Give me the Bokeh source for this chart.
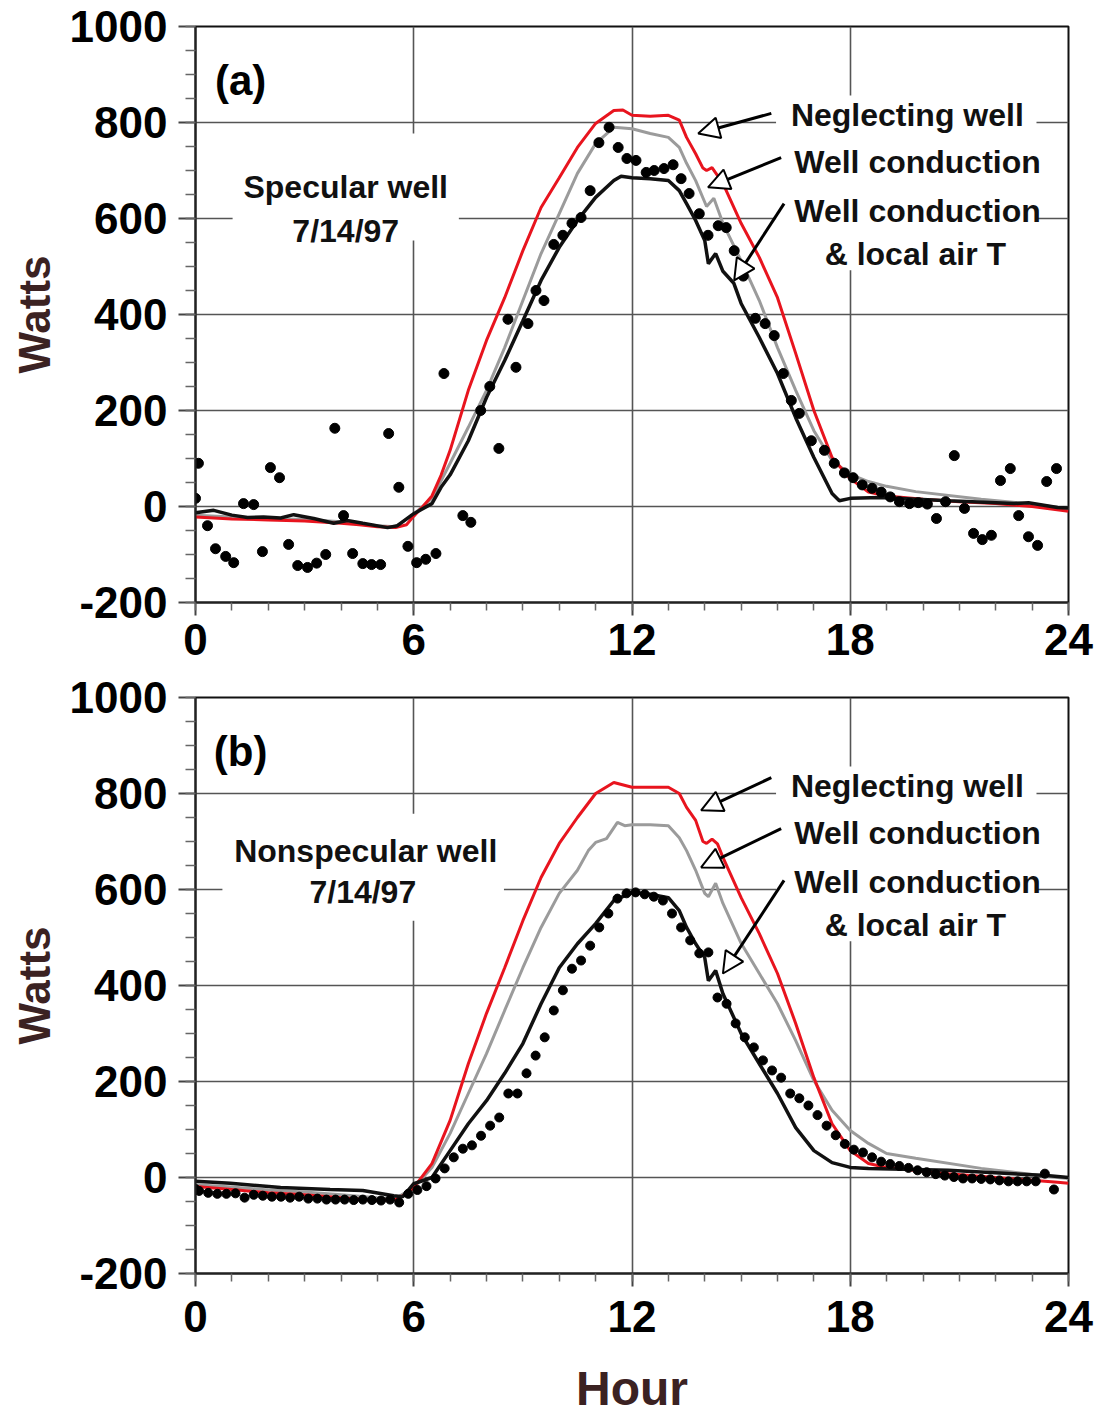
from bokeh.plotting import figure
from bokeh.layouts import column
from bokeh.models import Range1d, FixedTicker, Label, Arrow, NormalHead, BoxAnnotation
from bokeh.embed import file_html
from bokeh.resources import INLINE

FONT = "Liberation Sans"
RED = "#e8141e"
GRAY = "#9b9b9b"
BLACK = "#111111"
AXIS_LABEL_COLOR = "#3b2222"

# ---------------- axes ----------------
x_ticks = [0, 6, 12, 18, 24]
x_tick_labels = ["0", "6", "12", "18", "24"]
x_minor = [0, 1, 2, 3, 4, 5, 6, 7, 8, 9, 10, 11, 12, 13, 14, 15, 16, 17, 18, 19, 20, 21, 22, 23, 24]
y_ticks = [-200, 0, 200, 400, 600, 800, 1000]
y_tick_labels = ["-200", "0", "200", "400", "600", "800", "1000"]
y_minor = [-200, -150, -100, -50, 0, 50, 100, 150, 200, 250, 300, 350, 400, 450, 500,
           550, 600, 650, 700, 750, 800, 850, 900, 950, 1000]

# ---------------- panel (a): specular well ----------------
a_red_h = [0, 1, 2, 3, 4, 4.5, 5, 5.5, 5.8, 6, 6.25, 6.5, 6.75, 7, 7.5, 8, 8.5, 9, 9.5, 10,
           10.5, 11, 11.5, 11.75, 12, 12.5, 13, 13.3, 13.5, 13.75, 13.95, 14.05, 14.2, 14.3,
           14.5, 15, 15.5, 16, 16.5, 17, 17.5, 18, 18.5, 19, 20, 21, 22, 23, 24]
a_red_w = [-22, -26, -28, -30, -35, -38, -42, -44, -38, -20, 0, 22, 65, 117, 242, 346, 435, 533,
           623, 685, 748, 798, 825, 826, 815, 813, 815, 805, 769, 735, 705, 700, 706, 695,
           673, 590, 519, 435, 319, 200, 102, 58, 30, 22, 15, 10, 6, 0, -10]

a_gray_h = [0, 1, 2, 3, 4, 5, 5.5, 6, 6.5, 7, 7.5, 8, 8.5, 9, 9.5, 10, 10.5, 11, 11.5, 12, 12.5,
            13, 13.3, 13.5, 13.75, 14.05, 14.25, 14.5, 15, 15.5, 16, 16.5, 17, 17.5, 18, 18.5,
            19, 19.8, 21.6, 23, 24]
a_gray_w = [-18, -22, -25, -27, -32, -40, -42, -16, 17, 90, 165, 242, 331, 429, 527, 610, 694,
            756, 790, 787, 777, 769, 748, 715, 679, 625, 642, 590, 512, 429, 331, 242, 158, 96,
            67, 52, 42, 31, 15, 5, -5]

a_black_h = [0, 0.5, 1, 1.43, 1.87, 2.34, 2.7, 3.25, 3.8, 4.17, 4.6, 5.28, 5.55, 6, 6.5, 6.75, 7,
             7.5, 8, 8.5, 9, 9.5, 10, 10.5, 11, 11.5, 11.7, 12, 12.5, 13, 13.3, 13.5, 13.75, 14,
             14.1, 14.3, 14.5, 14.8, 15, 15.5, 16, 16.5, 17, 17.5, 17.7, 18, 18.85, 20.7, 22.5,
             22.9, 23.7, 24]
a_black_w = [-13, -8, -18, -23, -22, -24, -17, -25, -35, -29, -35, -44, -40, -15, 6, 40, 66, 137,
             227, 304, 387, 471, 540, 596, 644, 679, 688, 685, 683, 679, 658, 631, 596, 554, 506,
             527, 490, 465, 423, 352, 277, 185, 102, 27, 12, 17, 19, 12, 6, 8, -2, -3]

a_meas_h = [0.0, 0.08, 0.33, 0.55, 0.83, 1.05, 1.32, 1.6, 1.84, 2.06, 2.31, 2.56, 2.81, 3.08,
            3.33, 3.58, 3.83, 4.07, 4.32, 4.6, 4.84, 5.09, 5.31, 5.59, 5.84, 6.08, 6.33, 6.61,
            6.83, 7.35, 7.57, 7.84, 8.09, 8.34, 8.59, 8.81, 9.14, 9.36, 9.58, 9.85, 10.1, 10.35,
            10.6, 10.85, 11.09, 11.37, 11.62, 11.86, 12.11, 12.39, 12.61, 12.88, 13.13, 13.35,
            13.57, 13.85, 14.09, 14.37, 14.59, 14.81, 15.06, 15.39, 15.66, 15.91, 16.16, 16.38,
            16.6, 16.93, 17.29, 17.56, 17.84, 18.08, 18.33, 18.6, 18.85, 19.1, 19.35, 19.63,
            19.87, 20.12, 20.37, 20.62, 20.86, 21.14, 21.39, 21.63, 21.88, 22.13, 22.4, 22.63,
            22.9, 23.15, 23.4, 23.67]
a_meas_w = [17, 90, -40, -88, -104, -117, 6, 4, -94, 81, 60, -79, -123, -127, -118, -100, 163,
            -19, -98, -119, -121, -121, 152, 40, -83, -117, -110, -98, 277, -19, -33, 200, 250,
            121, 390, 290, 381, 450, 429, 546, 565, 590, 602, 658, 758, 790, 748, 725, 721, 696,
            700, 704, 712, 683, 652, 610, 565, 585, 581, 533, 480, 392, 381, 356, 277, 221, 194,
            137, 117, 90, 70, 60, 45, 38, 30, 20, 10, 6, 8, 5, -25, 10, 106, -4, -56, -69, -60,
            54, 79, -19, -63, -81, 52, 79]

# ---------------- panel (b): nonspecular well ----------------
b_red_h = [0, 1, 2, 3, 4, 5, 5.5, 5.8, 6, 6.5, 7, 7.5, 8, 8.5, 9, 9.5, 10, 10.5, 11, 11.5, 12,
           12.5, 13, 13.3, 13.5, 13.75, 13.95, 14.05, 14.2, 14.35, 14.5, 15, 15.5, 16, 16.5, 17,
           17.5, 18, 18.5, 19, 20.7, 22, 23.7, 24]
b_red_w = [-19, -25, -32, -36, -42, -48, -46, -34, -21, 29, 119, 237, 342, 437, 535, 625, 696,
           750, 800, 823, 813, 813, 813, 800, 771, 744, 700, 696, 705, 695, 667, 583, 508, 425,
           321, 208, 112, 56, 29, 21, 8, 0, -10, -12]

b_gray_h = [0, 1, 2, 3, 4, 5, 5.5, 6, 6.5, 7, 7.5, 8, 8.5, 9, 9.5, 10, 10.5, 10.8, 11, 11.3,
            11.6, 11.8, 12, 12.5, 13, 13.3, 13.5, 13.75, 14, 14.1, 14.3, 14.5, 15, 15.5, 16,
            16.5, 17, 17.5, 18, 18.5, 19, 19.8, 21.6, 23.7, 24]
b_gray_w = [-15, -20, -26, -30, -36, -42, -44, -21, 21, 92, 175, 258, 348, 437, 521, 592, 640,
            681, 698, 706, 740, 733, 735, 735, 733, 708, 681, 640, 592, 585, 613, 571, 488, 425,
            362, 285, 202, 140, 98, 71, 50, 40, 19, 0, -2]

b_black_h = [0, 0.96, 2.34, 3.7, 4.6, 5.45, 5.7, 6, 6.5, 7, 7.5, 8, 8.5, 9, 9.5, 10, 10.5, 11,
             11.5, 12, 12.5, 13, 13.3, 13.5, 13.75, 14, 14.1, 14.3, 14.5, 15, 15.5, 16, 16.5, 17,
             17.5, 18, 18.5, 20.7, 23.4, 24]
b_black_w = [-8, -12, -21, -25, -27, -38, -40, -13, 0, 56, 112, 160, 217, 279, 362, 437, 487,
             529, 577, 594, 590, 583, 556, 521, 487, 458, 410, 431, 383, 300, 237, 175, 104, 56,
             31, 21, 19, 15, 4, 0]

b_meas_h = [0.0, 0.1, 0.35, 0.6, 0.85, 1.1, 1.35, 1.6, 1.85, 2.1, 2.35, 2.6, 2.85, 3.1, 3.35,
            3.6, 3.85, 4.1, 4.35, 4.6, 4.85, 5.1, 5.35, 5.6, 5.85, 6.1, 6.35, 6.6, 6.85, 7.1,
            7.35, 7.6, 7.85, 8.1, 8.35, 8.6, 8.85, 9.1, 9.35, 9.6, 9.85, 10.1, 10.35, 10.6,
            10.85, 11.1, 11.35, 11.6, 11.85, 12.1, 12.35, 12.6, 12.85, 13.1, 13.35, 13.6, 13.85,
            14.1, 14.35, 14.6, 14.85, 15.1, 15.35, 15.6, 15.85, 16.1, 16.35, 16.6, 16.85, 17.1,
            17.35, 17.6, 17.85, 18.1, 18.35, 18.6, 18.85, 19.1, 19.35, 19.6, 19.85, 20.1, 20.35,
            20.6, 20.85, 21.1, 21.35, 21.6, 21.85, 22.1, 22.35, 22.6, 22.85, 23.1, 23.35, 23.6]
b_meas_w = [-24, -28, -32, -34, -34, -33, -42, -36, -38, -40, -40, -42, -40, -44, -44, -46, -46,
            -46, -47, -46, -47, -48, -46, -52, -34, -26, -18, -2, 19, 42, 60, 67, 87, 108, 125,
            175, 175, 217, 254, 292, 348, 390, 435, 452, 483, 521, 550, 581, 592, 594, 590, 585,
            577, 550, 521, 494, 467, 469, 375, 362, 321, 292, 271, 244, 223, 208, 175, 165, 150,
            130, 108, 88, 70, 58, 52, 42, 33, 28, 24, 20, 15, 11, 7, 4, 1, -2, -2, -3, -4, -6,
            -8, -8, -8, -8, 8, -25]

# annotation layout (data coordinates)
RIGHT_TEXTS = [("Neglecting well", 19.57, 815), ("Well conduction", 19.85, 717),
               ("Well conduction", 19.85, 615), ("& local air T", 19.79, 527)]
A_ARROWS = [(15.83, 819, 13.82, 777), (16.1, 727, 14.09, 665), (16.18, 631, 14.81, 471)]
B_ARROWS = [(15.83, 833, 13.9, 765), (16.1, 727, 13.9, 646), (16.18, 619, 14.5, 425)]


def make_panel(tag, left_texts, left_box, arrows, series, meas, dot_size,
               border_top, border_bottom, x_standoff, xlabel):
    p = figure(frame_width=873, frame_height=576,
               x_range=Range1d(0, 24), y_range=Range1d(-200, 1000),
               output_backend="svg", toolbar_location=None,
               min_border_left=195, min_border_right=28,
               min_border_top=border_top, min_border_bottom=border_bottom)
    p.background_fill_color = "white"
    p.border_fill_color = "white"
    p.outline_line_color = "#111111"
    p.outline_line_width = 2

    p.xaxis.ticker = FixedTicker(ticks=x_ticks, minor_ticks=x_minor)
    p.yaxis.ticker = FixedTicker(ticks=y_ticks, minor_ticks=y_minor)
    p.xaxis.major_label_overrides = {t: s for t, s in zip(x_ticks, x_tick_labels)}
    p.yaxis.major_label_overrides = {t: s for t, s in zip(y_ticks, y_tick_labels)}

    for ax in (p.xaxis, p.yaxis):
        ax.axis_line_color = "#222222"
        ax.axis_line_width = 2
        ax.major_tick_line_color = "#444444"
        ax.major_tick_line_width = 2
        ax.minor_tick_line_color = "#666666"
        ax.minor_tick_line_width = 1.5
        ax.major_tick_in = 0
        ax.minor_tick_in = 0
        ax.major_label_text_font = FONT
        ax.major_label_text_font_style = "bold"
        ax.major_label_text_font_size = "44px"
        ax.major_label_text_color = "black"
        ax.axis_label_text_font = FONT
        ax.axis_label_text_font_style = "bold"
        ax.axis_label_text_color = AXIS_LABEL_COLOR

    p.yaxis.major_tick_out = 17
    p.yaxis.minor_tick_out = 10
    p.yaxis.major_label_standoff = 11
    p.yaxis.axis_label = "Watts"
    p.yaxis.axis_label_text_font_size = "44px"
    p.yaxis.axis_label_standoff = 8

    p.xaxis.major_tick_out = 13
    p.xaxis.minor_tick_out = 8
    p.xaxis.major_label_standoff = x_standoff
    if xlabel:
        p.xaxis.axis_label = xlabel
        p.xaxis.axis_label_text_font_size = "48px"
        p.xaxis.axis_label_standoff = 27

    for g in (p.xgrid, p.ygrid):
        g.grid_line_color = "#555555"
        g.grid_line_width = 1.6

    # white boxes behind the annotation texts (they hide the grid)
    for (l, r, t, b) in (left_box, (15.96, 23.12, 856, 492)):
        p.add_layout(BoxAnnotation(left=l, right=r, top=t, bottom=b, fill_color="white",
                                   fill_alpha=1.0, line_alpha=0.0, level="underlay"))

    (rh, rw), (gh, gw), (kh, kw) = series
    p.line(gh, gw, line_color=GRAY, line_width=3)
    p.line(rh, rw, line_color=RED, line_width=3)
    p.line(kh, kw, line_color=BLACK, line_width=3.5)
    p.scatter(meas[0], meas[1], size=dot_size, color="black")

    p.add_layout(Label(x=1.24, y=888, text=tag, text_align="center", text_baseline="middle",
                       text_font=FONT, text_font_style="bold", text_font_size="42px",
                       text_color="black"))
    for txt, x, y in left_texts + RIGHT_TEXTS:
        p.add_layout(Label(x=x, y=y, text=txt, text_align="center", text_baseline="middle",
                           text_font=FONT, text_font_style="bold", text_font_size="32px",
                           text_color="#111111"))
    for (x0, y0, x1, y1) in arrows:
        p.add_layout(Arrow(end=NormalHead(size=21, fill_color="white", line_color="black",
                                          line_width=2),
                           x_start=x0, y_start=y0, x_end=x1, y_end=y1,
                           line_color="black", line_width=3))
    return p


p1 = make_panel("(a)", [("Specular well", 4.13, 665), ("7/14/97", 4.13, 575)],
                (1.02, 7.24, 777, 554), A_ARROWS,
                ((a_red_h, a_red_w), (a_gray_h, a_gray_w), (a_black_h, a_black_w)),
                (a_meas_h, a_meas_w), 10, 26, 70, 8, None)
p2 = make_panel("(b)", [("Nonspecular well", 4.68, 681), ("7/14/97", 4.6, 594)],
                (0.74, 8.48, 758, 535), B_ARROWS,
                ((b_red_h, b_red_w), (b_gray_h, b_gray_w), (b_black_h, b_black_w)),
                (b_meas_h, b_meas_w), 9, 25, 138, 14, "Hour")

layout = column(p1, p2, spacing=0)
open("out.html", "w").write(file_html(layout, INLINE))
